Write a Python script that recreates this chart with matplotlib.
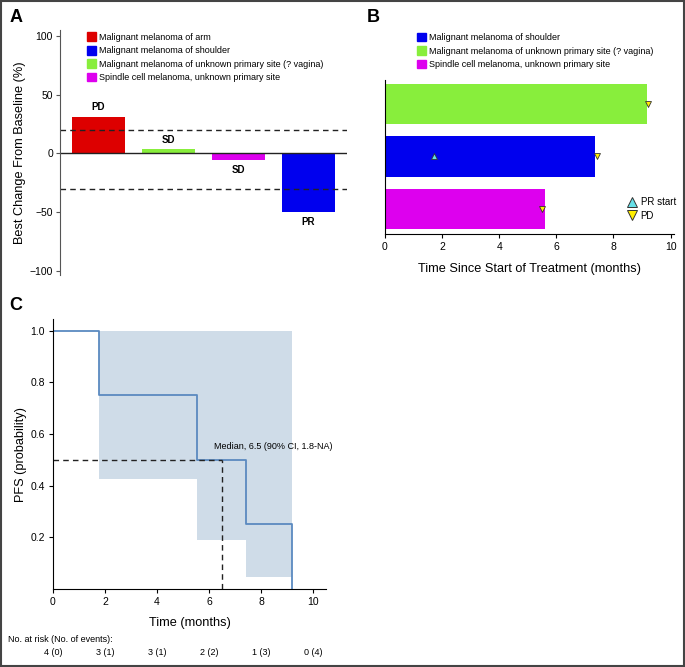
import numpy as np
import matplotlib
matplotlib.use('Agg')
import matplotlib.pyplot as plt
from matplotlib.patches import Patch, Rectangle
from matplotlib.lines import Line2D

plt.rcParams['font.family'] = ['Liberation Sans', 'DejaVu Sans']

# ---- dados painel A (waterfall)
mudanca = [31, 3.5, -5.5, -50]
resposta = ['PD', 'SD', 'SD', 'PR']
cores_a = ['#dd0000', '#88ee3c', '#dd00ee', '#0000ee']
legenda_a = ['Malignant melanoma of arm', 'Malignant melanoma of shoulder',
             'Malignant melanoma of unknown primary site (? vagina)',
             'Spindle cell melanoma, unknown primary site']
cores_leg_a = ['#dd0000', '#0000ee', '#88ee3c', '#dd00ee']

# ---- dados painel B (swimmer), de baixo para cima
legenda_b = ['Malignant melanoma of shoulder',
             'Malignant melanoma of unknown primary site (? vagina)',
             'Spindle cell melanoma, unknown primary site']
cores_leg_b = ['#0000ee', '#88ee3c', '#dd00ee']
duracao = [5.62, 7.37, 9.17]
cores_b = ['#dd00ee', '#0000ee', '#88ee3c']
pd_tempo = [5.5, 7.42, 9.2]
pr_tempo = [np.nan, 1.71, np.nan]

# ---- dados painel C (Kaplan-Meier)
km_t = [0, 1.77, 5.52, 7.43, 9.2]
km_s = [1.0, 0.75, 0.5, 0.25, 0.0]
ic_t = [1.77, 5.52, 7.43, 9.2]
ic_inf = [0.425, 0.19, 0.045, 0.045]
ic_sup = [1.0, 1.0, 1.0, 1.0]
mediana = 6.5
risco_t = [0, 2, 4, 6, 8, 10]
risco_txt = ['4 (0)', '3 (1)', '3 (1)', '2 (2)', '1 (3)', '0 (4)']

W, H = 685, 667
fig = plt.figure(figsize=(W / 100, H / 100), dpi=100)

def caixa(x0, y0, x1, y1):
    return [x0 / W, 1 - y1 / H, (x1 - x0) / W, (y1 - y0) / H]

# ===== Painel A
axA = fig.add_axes(caixa(60, 30, 347, 275))
x = np.arange(len(mudanca))
axA.bar(x, mudanca, width=0.76, color=cores_a, edgecolor='none')
axA.axhline(0, color='#222222', lw=1)
axA.axhline(20, color='#222222', lw=1, ls=(0, (4, 3)))
axA.axhline(-30, color='#222222', lw=1, ls=(0, (4, 3)))
for xi, v, r in zip(x, mudanca, resposta):
    if v > 0:
        axA.text(xi, v + 4, r, ha='center', va='bottom', fontsize=7, fontweight='bold')
    else:
        axA.text(xi, v - 4, r, ha='center', va='top', fontsize=7, fontweight='bold')
axA.set_xlim(-0.55, 3.55)
axA.set_ylim(-103.5, 105)
axA.set_yticks([-100, -50, 0, 50, 100])
axA.set_yticklabels(['\u2212100', '\u221250', '0', '50', '100'])
axA.set_xticks([])
for s in ['top', 'right', 'bottom']:
    axA.spines[s].set_visible(False)
axA.spines['left'].set_color('#555555')
axA.tick_params(axis='y', labelsize=7.5, length=3, color='#555555', pad=2)
axA.set_ylabel('Best Change From Baseline (%)', fontsize=9.2, labelpad=3)
hA = [Patch(color=c) for c in cores_leg_a]
axA.legend(hA, legenda_a, loc='upper left', bbox_to_anchor=(0.08, 1.005), frameon=False,
           fontsize=6.5, handlelength=1.0, handleheight=1.1, labelspacing=0.45, handletextpad=0.35,
           borderaxespad=0)

# ===== Painel B
axB = fig.add_axes(caixa(385, 80, 674, 234))
y = np.arange(len(duracao))
axB.barh(y, duracao, height=0.76, color=cores_b, edgecolor='none')
axB.scatter(pd_tempo, y, marker='v', s=18, color='#ffee00', edgecolor='#333333', linewidths=0.6, zorder=3)
axB.scatter(pr_tempo, y, marker='^', s=18, color='#66e0e8', edgecolor='#333333', linewidths=0.6, zorder=3)
axB.set_xlim(0, 10.12)
axB.set_ylim(-0.47, 2.45)
axB.set_yticks([])
axB.set_xticks([0, 2, 4, 6, 8, 10])
for s in ['top', 'right']:
    axB.spines[s].set_visible(False)
axB.tick_params(axis='x', labelsize=7.5, length=3, pad=3)
axB.set_xlabel('Time Since Start of Treatment (months)', fontsize=9.2, labelpad=8)
hB = [Patch(color=c) for c in cores_leg_b]
legB1 = axB.legend(hB, legenda_b, loc='upper left', bbox_to_anchor=(0.098, 1.33), frameon=False,
                   fontsize=6.5, handlelength=1.0, handleheight=1.1, labelspacing=0.45, handletextpad=0.35,
                   borderaxespad=0)
axB.add_artist(legB1)
hM = [Line2D([], [], ls='none', marker='^', ms=6.5, mfc='#66e0e8', mec='#333333', mew=0.7),
      Line2D([], [], ls='none', marker='v', ms=6.5, mfc='#ffee00', mec='#333333', mew=0.7)]
axB.legend(hM, ['PR start', 'PD'], loc='lower right', bbox_to_anchor=(1.02, 0.06), frameon=False,
           fontsize=7, handlelength=1.0, handletextpad=0.4, labelspacing=0.4, borderaxespad=0)

# ===== Painel C
axC = fig.add_axes(caixa(53, 319, 326, 589))
axC.fill_between(ic_t, ic_inf, ic_sup, step='post', color='#cfdce8', lw=0)
axC.step(km_t, km_s, where='post', color='#5b8ac0', lw=1.3)
axC.plot([0, mediana], [0.5, 0.5], color='#222222', lw=1, ls=(0, (4, 3)))
axC.plot([mediana, mediana], [0, 0.5], color='#222222', lw=1, ls=(0, (4, 3)))
axC.text(6.2, 0.535, 'Median, 6.5 (90% CI, 1.8-NA)', fontsize=6.5, ha='left', va='bottom')
axC.set_xlim(0, 10.5)
axC.set_ylim(0, 1.045)
axC.set_xticks([0, 2, 4, 6, 8, 10])
axC.set_yticks([0.2, 0.4, 0.6, 0.8, 1.0])
axC.set_yticklabels(['0.2', '0.4', '0.6', '0.8', '1.0'])
for s in ['top', 'right']:
    axC.spines[s].set_visible(False)
axC.tick_params(labelsize=7.5, length=3, pad=3)
axC.set_xlabel('Time (months)', fontsize=9.2, labelpad=7)
axC.set_ylabel('PFS (probability)', fontsize=9.2, labelpad=2)
for t, s in zip(risco_t, risco_txt):
    axC.text(t, -0.235, s, transform=axC.get_xaxis_transform(), ha='center', va='center', fontsize=6.5)
fig.text(8 / W, 1 - 640 / H, 'No. at risk (No. of events):', fontsize=6.5, va='center', ha='left')

# letras dos paineis
fig.text(10 / W, 1 - 18 / H, 'A', fontsize=13, fontweight='bold', va='center')
fig.text(367 / W, 1 - 18 / H, 'B', fontsize=13, fontweight='bold', va='center')
fig.text(9 / W, 1 - 305 / H, 'C', fontsize=13, fontweight='bold', va='center')

# moldura
fig.patches.append(Rectangle((0.001, 0.001), 0.997, 0.997, transform=fig.transFigure,
                             fill=False, edgecolor='#444444', lw=1.5))

fig.savefig('out.png', dpi=100)
